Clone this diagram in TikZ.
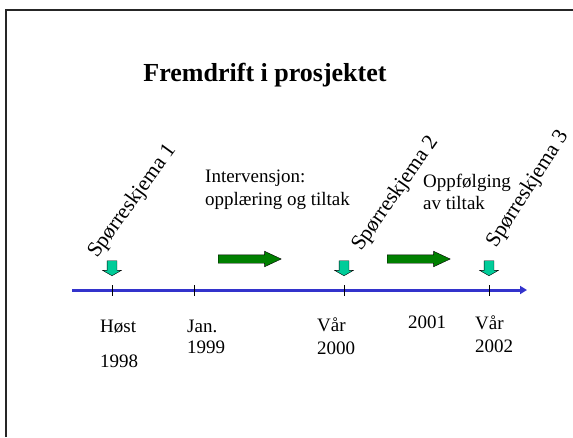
\documentclass[tikz,border=0pt]{standalone}
\usepackage{fontspec}
\setmainfont{Liberation Serif}
\usetikzlibrary{shapes.arrows,arrows.meta}
\definecolor{axisblue}{RGB}{51,51,204}
\definecolor{markcyan}{RGB}{0,204,153}
\definecolor{stepgreen}{RGB}{0,128,0}

\begin{document}
\begin{tikzpicture}[
    x=1pt, y=-1pt,
    datetext/.style={anchor=base west, align=left, inner sep=0pt, font=\fontsize{19}{23}\selectfont},
    phasetext/.style={anchor=base west, align=left, inner sep=0pt, font=\fontsize{19}{23}\selectfont},
    surveytext/.style={anchor=base west, inner sep=0pt, font=\fontsize{21.5}{25}\selectfont},
    surveyarrow/.style={single arrow, draw=black, fill=markcyan, rotate=-90, anchor=tip, inner xsep=0pt, inner ysep=4.75pt,
        minimum height=15pt, single arrow head extend=4.5pt, single arrow tip angle=120},
    phasearrow/.style={single arrow, draw=black, fill=stepgreen, anchor=tail, inner xsep=0pt, inner ysep=4pt,
        minimum height=63pt, single arrow head extend=3.5pt, single arrow tip angle=50},
    axisline/.style={draw=axisblue, line width=3pt, -{Triangle[length=7pt,width=8pt]}},
    axistick/.style={draw=black, line width=0.8pt}
]
\useasboundingbox (0,0) rectangle (573,437);

% Frame
\draw[line width=1.5pt, black!85] (6,437) -- (6,10) -- (573,10);

\node[anchor=base, font=\fontsize{26}{31}\selectfont\bfseries] (title) at (265,81) {Fremdrift i prosjektet};

% Time axis
\coordinate (start) at (72,290);
\coordinate (end) at (527,290);
\path[axisline] (start) -- (end);

\foreach \name/\x in {T-1/112, T-2/194, T-3/344, T-4/489} {
    \coordinate (\name) at (\x,290);
    \draw[axistick] ([yshift=5pt]\name) -- ([yshift=-6pt]\name);
}

% Surveys
\node[surveyarrow] (A-1) at (112,276) {};
\node[surveyarrow] (A-2) at (344,276) {};
\node[surveyarrow] (A-3) at (489,276) {};

\node[surveytext, rotate=54] (S-1) at (97,259) {Spørreskjema 1};
\node[surveytext, rotate=55] (S-2) at (361,252) {Spørreskjema 2};
\node[surveytext, rotate=57.5] (S-3) at (496,249) {Spørreskjema 3};

% Phases
\node[phasearrow] (P-1) at (218,259) {};
\node[phasearrow] (P-2) at (387,259) {};

\node[phasetext] (intervention) at (205,205) {Intervensjon:\\opplæring og tiltak};
\node[phasetext] (followup) at (423,209) {Oppfølging\\[-1pt]av tiltak};

% Labels
\node[datetext] (D-1) at (100,367) {Høst\\[12pt]1998};
\node[datetext] (D-2) at (187,353) {Jan.\\[-2pt]1999};
\node[datetext] (D-3) at (317,354) {Vår\\2000};
\node[datetext] (D-4) at (408,328) {2001};
\node[datetext] (D-5) at (475,352) {Vår\\2002};

\end{tikzpicture}
\end{document}
